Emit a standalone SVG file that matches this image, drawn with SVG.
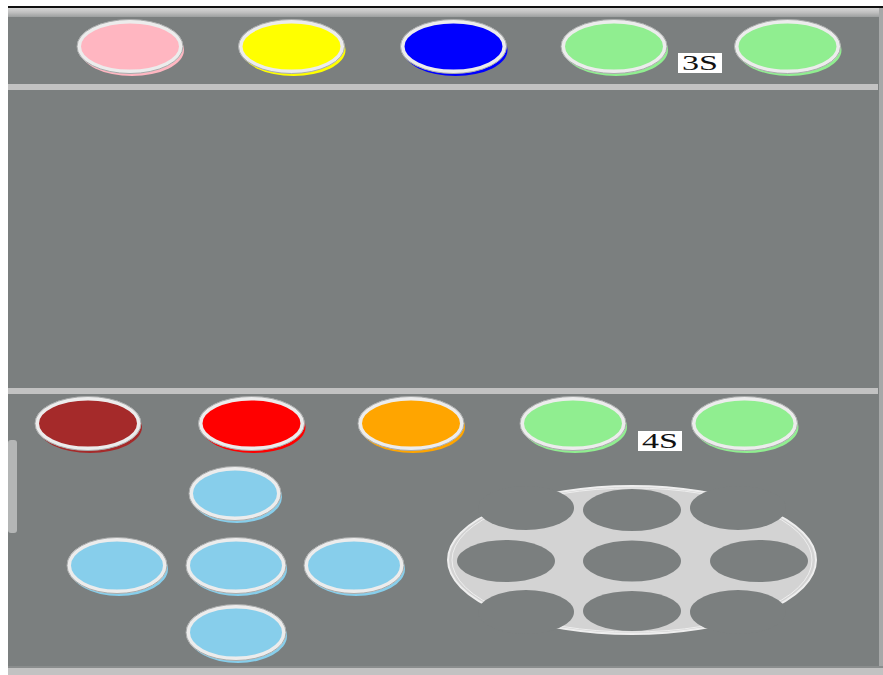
<svg xmlns="http://www.w3.org/2000/svg" width="883" height="675" viewBox="0 0 883 675">
<defs>
<style>
.bg{fill:#7b7f7f}
.rail{fill:#c2c2c2}
.ring{stroke:#ececec;stroke-width:4}
.edge{fill:none;stroke:#a9abab;stroke-width:1}
.lbl{fill:#ffffff}
.lt{font-family:"Liberation Serif","DejaVu Serif",serif;font-size:21px;fill:#111}
.hole{fill:#7b7f7f}
</style>
<linearGradient id="topbar" x1="0" y1="0" x2="0" y2="1">
<stop offset="0" stop-color="#d6d6d6"/>
<stop offset="0.5" stop-color="#bfbfbf"/>
<stop offset="1" stop-color="#9c9f9f"/>
</linearGradient>
</defs>
<rect width="883" height="675" fill="#ffffff"/>
<rect x="8" y="6" width="875" height="669" class="bg"/>
<rect x="8" y="6" width="875" height="2" fill="#111"/>
<rect x="8" y="8" width="875" height="9" fill="url(#topbar)"/>
<rect x="879" y="8" width="4" height="667" fill="#a6a8a8"/>
<rect x="8" y="84" width="870" height="6" class="rail"/>
<rect x="8" y="388" width="870" height="6" class="rail"/>
<rect x="8" y="666" width="875" height="2" fill="#8a8d8d"/>
<rect x="8" y="668" width="875" height="7" class="rail"/>
<rect x="8" y="440" width="9" height="93" rx="3" fill="#b4b6b6"/>

<g id="btn-pink">
<ellipse cx="132" cy="50" rx="52" ry="26" fill="#ffb6c1"/>
<ellipse cx="130" cy="46.5" rx="51" ry="25" fill="#ffb6c1" class="ring"/>
<ellipse cx="130" cy="46.5" rx="53" ry="27" class="edge"/>
</g>
<g id="btn-yellow">
<ellipse cx="293.5" cy="50" rx="52" ry="26" fill="#ffff00"/>
<ellipse cx="291.5" cy="46.5" rx="51" ry="25" fill="#ffff00" class="ring"/>
<ellipse cx="291.5" cy="46.5" rx="53" ry="27" class="edge"/>
</g>
<g id="btn-blue">
<ellipse cx="455.5" cy="50" rx="52" ry="26" fill="#0000ff"/>
<ellipse cx="453.5" cy="46.5" rx="51" ry="25" fill="#0000ff" class="ring"/>
<ellipse cx="453.5" cy="46.5" rx="53" ry="27" class="edge"/>
</g>
<g id="btn-green-1">
<ellipse cx="616" cy="50" rx="52" ry="26" fill="#90ee90"/>
<ellipse cx="614" cy="46.5" rx="51" ry="25" fill="#90ee90" class="ring"/>
<ellipse cx="614" cy="46.5" rx="53" ry="27" class="edge"/>
</g>
<g id="label-3s">
<rect x="678" y="53" width="44" height="20" class="lbl"/>
<text x="682" y="70" class="lt" textLength="36" lengthAdjust="spacingAndGlyphs">3S</text>
</g>
<g id="btn-green-2">
<ellipse cx="789.5" cy="50" rx="52" ry="26" fill="#90ee90"/>
<ellipse cx="787.5" cy="46.5" rx="51" ry="25" fill="#90ee90" class="ring"/>
<ellipse cx="787.5" cy="46.5" rx="53" ry="27" class="edge"/>
</g>

<g id="btn-brown">
<ellipse cx="90" cy="427" rx="52" ry="26" fill="#a52a2a"/>
<ellipse cx="88" cy="423.5" rx="51" ry="25" fill="#a52a2a" class="ring"/>
<ellipse cx="88" cy="423.5" rx="53" ry="27" class="edge"/>
</g>
<g id="btn-red">
<ellipse cx="253.5" cy="427" rx="52" ry="26" fill="#ff0000"/>
<ellipse cx="251.5" cy="423.5" rx="51" ry="25" fill="#ff0000" class="ring"/>
<ellipse cx="251.5" cy="423.5" rx="53" ry="27" class="edge"/>
</g>
<g id="btn-orange">
<ellipse cx="413" cy="427" rx="52" ry="26" fill="#ffa500"/>
<ellipse cx="411" cy="423.5" rx="51" ry="25" fill="#ffa500" class="ring"/>
<ellipse cx="411" cy="423.5" rx="53" ry="27" class="edge"/>
</g>
<g id="btn-green-3">
<ellipse cx="575" cy="427" rx="52" ry="26" fill="#90ee90"/>
<ellipse cx="573" cy="423.5" rx="51" ry="25" fill="#90ee90" class="ring"/>
<ellipse cx="573" cy="423.5" rx="53" ry="27" class="edge"/>
</g>
<g id="label-4s">
<rect x="638" y="431" width="44" height="20" class="lbl"/>
<text x="642" y="448" class="lt" textLength="36" lengthAdjust="spacingAndGlyphs">4S</text>
</g>
<g id="btn-green-4">
<ellipse cx="746.5" cy="427" rx="52" ry="26" fill="#90ee90"/>
<ellipse cx="744.5" cy="423.5" rx="51" ry="25" fill="#90ee90" class="ring"/>
<ellipse cx="744.5" cy="423.5" rx="53" ry="27" class="edge"/>
</g>

<g id="dpad-up">
<ellipse cx="237" cy="497" rx="45" ry="26" fill="#87ceeb"/>
<ellipse cx="235" cy="493.5" rx="44" ry="25" fill="#87ceeb" class="ring"/>
<ellipse cx="235" cy="493.5" rx="46" ry="27" class="edge"/>
</g>
<g id="dpad-left">
<ellipse cx="119" cy="569" rx="49" ry="27" fill="#87ceeb"/>
<ellipse cx="117" cy="565.5" rx="48" ry="26" fill="#87ceeb" class="ring"/>
<ellipse cx="117" cy="565.5" rx="50" ry="28" class="edge"/>
</g>
<g id="dpad-center">
<ellipse cx="238" cy="569" rx="49" ry="27" fill="#87ceeb"/>
<ellipse cx="236" cy="565.5" rx="48" ry="26" fill="#87ceeb" class="ring"/>
<ellipse cx="236" cy="565.5" rx="50" ry="28" class="edge"/>
</g>
<g id="dpad-right">
<ellipse cx="356" cy="569" rx="49" ry="27" fill="#87ceeb"/>
<ellipse cx="354" cy="565.5" rx="48" ry="26" fill="#87ceeb" class="ring"/>
<ellipse cx="354" cy="565.5" rx="50" ry="28" class="edge"/>
</g>
<g id="dpad-down">
<ellipse cx="238" cy="636" rx="49" ry="27" fill="#87ceeb"/>
<ellipse cx="236" cy="632.5" rx="48" ry="26" fill="#87ceeb" class="ring"/>
<ellipse cx="236" cy="632.5" rx="50" ry="28" class="edge"/>
</g>

<g id="dial">
<ellipse cx="632" cy="560" rx="184" ry="74" fill="#d3d3d3" stroke="#eeeeee" stroke-width="2"/>
<ellipse cx="632" cy="560" rx="180" ry="72" fill="none" stroke="#eeeeee" stroke-width="1"/>
<ellipse cx="526" cy="508" rx="48" ry="22" class="hole"/>
<ellipse cx="738" cy="508" rx="48" ry="22" class="hole"/>
<ellipse cx="526" cy="612" rx="48" ry="22" class="hole"/>
<ellipse cx="738" cy="612" rx="48" ry="22" class="hole"/>
<ellipse cx="632" cy="510" rx="49" ry="21" class="hole"/>
<ellipse cx="632" cy="561" rx="49" ry="20.5" class="hole"/>
<ellipse cx="632" cy="611" rx="49" ry="20" class="hole"/>
<ellipse cx="506" cy="561" rx="49" ry="21" class="hole"/>
<ellipse cx="759" cy="561" rx="49" ry="21" class="hole"/>
</g>
</svg>
